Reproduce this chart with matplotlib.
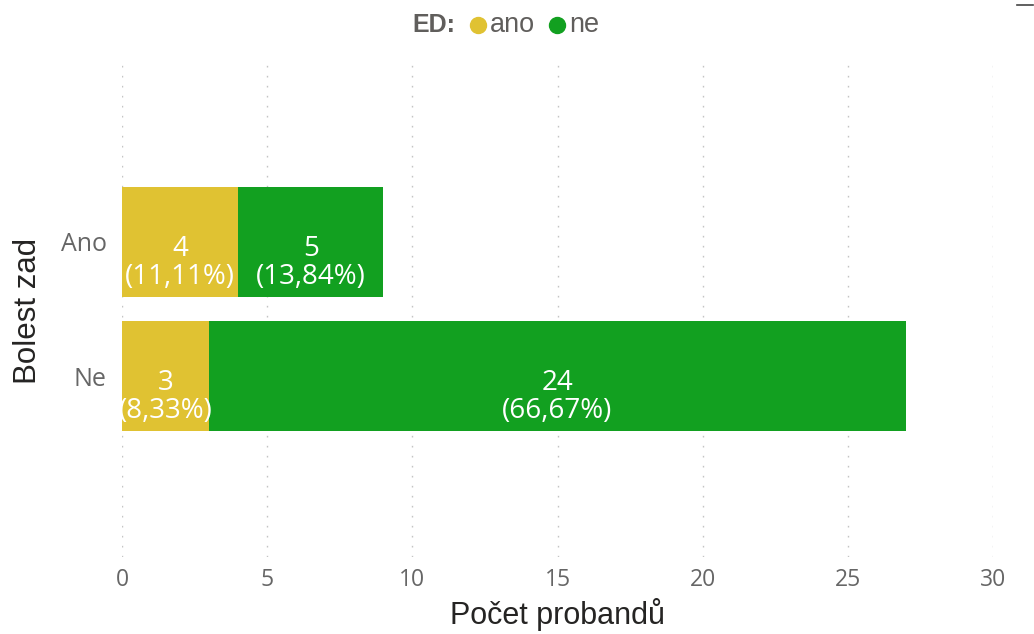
import matplotlib
matplotlib.use("Agg")
import matplotlib.pyplot as plt
from matplotlib.lines import Line2D

# data
kategorie = ["Ne", "Ano"]          # bolest zad (bottom -> top)
ed_ano = [3, 4]
ed_ne = [24, 5]
proc_ano = ["8,33%", "11,11%"]
proc_ne = ["66,67%", "13,84%"]
x_ticks = [0, 5, 10, 15, 20, 25, 30]

barva_ano = "#E0C232"
barva_ne = "#12A020"

plt.rcParams['font.family'] = ['Open Sans', 'DejaVu Sans']
arial = ["Liberation Sans", "DejaVu Sans"]

fig = plt.figure(figsize=(10.34, 6.34), dpi=100)
ax = fig.add_axes([122/1034, 1 - 557/634, (993 - 122)/1034, (557 - 65)/634])

pozice = list(range(len(kategorie)))
b1 = ax.barh(pozice, ed_ano, height=0.82, color=barva_ano, label="ano")
b2 = ax.barh(pozice, ed_ne, left=ed_ano, height=0.82, color=barva_ne, label="ne")

# popisky uvnitr sloupcu (v originale lehce pod stredem)
for bars, hodnoty, procenta in [(b1, ed_ano, proc_ano), (b2, ed_ne, proc_ne)]:
    for bar, h, p in zip(bars, hodnoty, procenta):
        cx = bar.get_x() + bar.get_width() / 2
        cy = bar.get_y() + bar.get_height() / 2
        ax.annotate(f"{h}\n({p})", (cx, cy), xytext=(0, -15),
                    textcoords="offset points", ha="center", va="center",
                    color="white", fontsize=20, linespacing=1.0)

ax.set_xlim(0, 30)
ax.set_ylim(-1.35, 2.32)
ax.set_xticks(x_ticks)
ax.set_yticks(pozice)
ax.set_yticklabels(kategorie)
ax.tick_params(axis="x", length=0, labelsize=16.5, colors="#666666", pad=8)
ax.tick_params(axis="y", length=0, labelsize=18, colors="#666666", pad=11)

ax.grid(axis="x", color="#C4C4C4", linestyle=(0, (1.2, 6)), linewidth=1.0)
ax.set_axisbelow(True)
for s in ax.spines.values():
    s.set_visible(False)

ax.set_xlabel("Počet probandů", fontsize=22, color="#252423",
              family=arial, labelpad=4)
ax.set_ylabel("Bolest zad", fontsize=22.5, color="#252423",
              family=arial, labelpad=13)

# legenda nahore
ly = 1 - 25/634
fig.text(412/1034, ly, "ED:", fontsize=18, fontweight="bold",
         color="#605E5C", family=arial, ha="left", va="center")
for x_kr, x_txt, barva, nazev in [(478, 490, barva_ano, "ano"),
                                  (557, 569, barva_ne, "ne")]:
    fig.add_artist(Line2D([x_kr/1034], [ly], marker="o", linestyle="",
                          markersize=11.5, color=barva))
    fig.text(x_txt/1034, ly, nazev, fontsize=19.5, color="#605E5C",
             family=arial, ha="left", va="center")

# maly prouzek vpravo nahore
fig.add_artist(Line2D([1017/1034, 1033/1034], [1 - 5/634, 1 - 5/634],
                      color="#444444", linewidth=1.2))

fig.savefig("out.png", dpi=100)
